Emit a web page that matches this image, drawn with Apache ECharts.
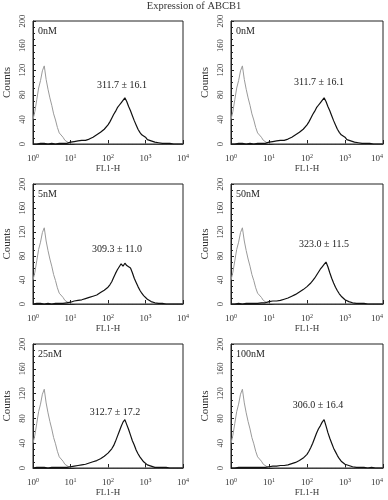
<!DOCTYPE html>
<html><head><meta charset="utf-8">
<script src="https://cdn.jsdelivr.net/npm/echarts@6/dist/echarts.min.js"></script>
<style>html,body{margin:0;padding:0;background:#fff}#c{width:388px;height:500px}</style>
</head><body><div id="c"></div>
<script>
// FL1-H bin positions, in decades (log10 of channel value)
const fl1Log = [
0.00,0.05,0.10,0.15,0.20,0.25,0.30,0.35,0.40,0.45,
0.50,0.55,0.60,0.65,0.70,0.75,0.80,0.85,0.90,0.95,
1.00,1.05,1.10,1.15,1.20,1.25,1.30,1.35,1.40,1.45,
1.50,1.55,1.60,1.65,1.70,1.75,1.80,1.85,1.90,1.95,
2.00,2.05,2.10,2.15,2.20,2.25,2.30,2.35,2.40,2.45,
2.50,2.55,2.60,2.65,2.70,2.75,2.80,2.85,2.90,2.95,
3.00,3.05,3.10,3.15,3.20,3.25,3.30,3.35,3.40,3.45,
3.50,3.55,3.60,3.65,3.70,3.75,3.80,3.85,3.90,3.95,
4.00];
// isotype control (grey)
const controlCounts = [
40,53,72,91,103,119,127,105,89,75,
63,49,39,27,18,20,11,6,4,2,
1,1,1,0,0,0,0,0,0,0,
0,0,0,0,0,0,0,0,0,0,
0,0,0,0,0,0,0,0,0,0,
0,0,0,0,0,0,0,0,0,0,
0,0,0,0,0,0,0,0,0,0,
0,0,0,0,0,0,0,0,0,0,
0];
const counts0nM = [
0,1,0,1,1,0,1,1,0,1,
1,1,0,1,1,1,1,1,1,2,
3,3,4,5,5,6,6,5,6,7,
8,9,11,13,15,17,19,21,24,27,
31,36,42,48,53,59,63,67,70,75,
69,61,54,46,38,31,24,19,15,14,
11,7,6,5,4,3,2,2,1,1,
1,1,0,1,0,0,0,0,0,0,
0];
const counts5nM = [
0,1,1,0,1,1,0,1,1,1,
0,1,1,1,1,2,1,2,2,3,
3,4,5,5,6,7,7,8,9,10,
11,12,13,14,15,17,19,21,23,25,
28,32,37,44,51,57,62,67,63,68,
64,66,60,52,43,36,29,23,18,14,
11,8,5,4,3,2,1,1,1,1,
1,0,1,0,0,0,0,0,0,0,
0];
const counts50nM = [
0,1,0,1,1,1,0,1,1,0,
1,1,1,1,1,1,2,1,2,3,
4,5,5,5,5,5,6,7,8,9,
10,11,13,14,16,18,20,22,24,26,
29,32,35,39,43,48,53,58,62,66,
70,62,52,43,35,28,22,17,13,10,
7,5,4,3,2,1,1,1,1,0,
1,0,0,1,0,0,0,0,0,0,
0];
const counts25nM = [
0,1,1,0,1,0,1,1,0,1,
1,0,1,1,1,1,1,1,1,2,
2,3,3,4,4,4,5,5,6,7,
8,9,10,11,12,14,15,17,19,21,
24,27,31,36,43,51,59,67,74,78,
70,62,53,44,37,29,23,18,14,10,
7,5,4,3,2,1,1,1,1,1,
0,1,0,0,0,0,0,0,0,0,
0];
const counts100nM = [
0,1,0,1,1,0,1,0,1,1,
1,0,1,1,1,1,1,1,1,2,
2,2,3,3,3,3,4,4,4,5,
5,6,7,8,9,10,12,14,16,18,
22,27,33,40,48,56,63,68,74,78,
68,57,48,40,32,26,20,15,11,8,
6,5,4,3,2,1,1,1,1,1,
1,0,0,0,1,0,0,0,0,0,
0];

const panelLabels = ['0nM','0nM','5nM','50nM','25nM','100nM'];
const meanLabels = ['311.7 \u00b1 16.1','311.7 \u00b1 16.1','309.3 \u00b1 11.0','323.0 \u00b1 11.5','312.7 \u00b1 17.2','306.0 \u00b1 16.4'];
const panelCounts = [counts0nM, counts0nM, counts5nM, counts50nM, counts25nM, counts100nM];
const decadeTicks = [0,1,2,3,4];
const countTicks = [0,40,80,120,160,200];

// layout (pixels)
const grids = [
  {left:33, top:21, width:150, height:123},
  {left:231, top:21, width:152, height:123},
  {left:33, top:184, width:150, height:120},
  {left:231, top:184, width:152, height:120},
  {left:33, top:344, width:150, height:124},
  {left:231, top:344, width:152, height:124}
];
const meanPos = [[89,64],[88,61],[84,65],[93,60],[82,68],[87,61]];

const SERIF = '"Liberation Serif","DejaVu Serif",serif';
const ink = '#222';

const option = {
  animation:false,
  backgroundColor:'#fff',
  textStyle:{fontFamily:SERIF},
  grid:[], xAxis:[], yAxis:[], series:[], graphic:[]
};
option.graphic.push({type:'text', left:'center', top:1,
  style:{text:'Expression of ABCB1', font:'10.5px '+SERIF, fill:'#333'}});

grids.forEach((g,i)=>{
  option.grid.push(Object.assign({show:true, borderColor:ink, borderWidth:1, containLabel:false, outerBoundsMode:'none'}, g));
  option.xAxis.push({
    type:'value', gridIndex:i, min:decadeTicks[0], max:decadeTicks[decadeTicks.length-1], interval:1,
    name:'FL1-H', nameLocation:'middle', nameGap:18,
    nameTextStyle:{fontFamily:SERIF, fontSize:9, color:'#333'},
    axisLine:{show:true, lineStyle:{color:ink, width:1}},
    axisTick:{show:true, inside:true, length:4, lineStyle:{color:ink}},
    minorTick:{show:false},
    splitLine:{show:false},
    axisLabel:{margin:9, color:'#333', fontFamily:SERIF,
      alignMaxLabel: (i % 2 === 1) ? 'right' : null,
      formatter: v => '{b|10}{s|' + v + '}',
      rich:{b:{fontSize:9, fontFamily:SERIF, color:'#333'}, s:{fontSize:6, fontFamily:SERIF, color:'#333', padding:[0,0,6,0]}}}
  });
  option.yAxis.push({
    type:'value', gridIndex:i, min:countTicks[0], max:countTicks[countTicks.length-1], interval:40,
    name:'Counts', nameLocation:'middle', nameGap:20, nameRotate:90,
    nameTextStyle:{fontFamily:SERIF, fontSize:11, color:'#333'},
    axisLine:{show:true, lineStyle:{color:ink, width:1}},
    axisTick:{show:true, inside:true, length:3, lineStyle:{color:ink}},
    minorTick:{show:true, splitNumber:4, length:2, lineStyle:{color:ink}},
    splitLine:{show:false},
    axisLabel:{rotate:90, margin:6, fontSize:8.5, color:'#333', fontFamily:SERIF}
  });
  option.series.push({
    type:'line', xAxisIndex:i, yAxisIndex:i, symbol:'none', smooth:false,
    lineStyle:{color:'#9a9a9a', width:1}, z:2,
    data: fl1Log.map((x,k)=>[x, controlCounts[k]])
  });
  option.series.push({
    type:'line', xAxisIndex:i, yAxisIndex:i, symbol:'none', smooth:false,
    lineStyle:{color:'#111', width:1.2}, z:3,
    data: fl1Log.map((x,k)=>[x, panelCounts[i][k]])
  });
  option.graphic.push({type:'text', x:g.left+5, y:g.top+10, z:100,
    style:{text:panelLabels[i], font:'10px '+SERIF, fill:'#222', align:'left', verticalAlign:'middle'}});
  option.graphic.push({type:'text', x:g.left+meanPos[i][0], y:g.top+meanPos[i][1], z:100,
    style:{text:meanLabels[i], font:'10px '+SERIF, fill:'#222', align:'center', verticalAlign:'middle'}});
});

const chart = echarts.init(document.getElementById('c'), null, {renderer:'canvas'});
chart.setOption(option);
</script>
</body></html>
